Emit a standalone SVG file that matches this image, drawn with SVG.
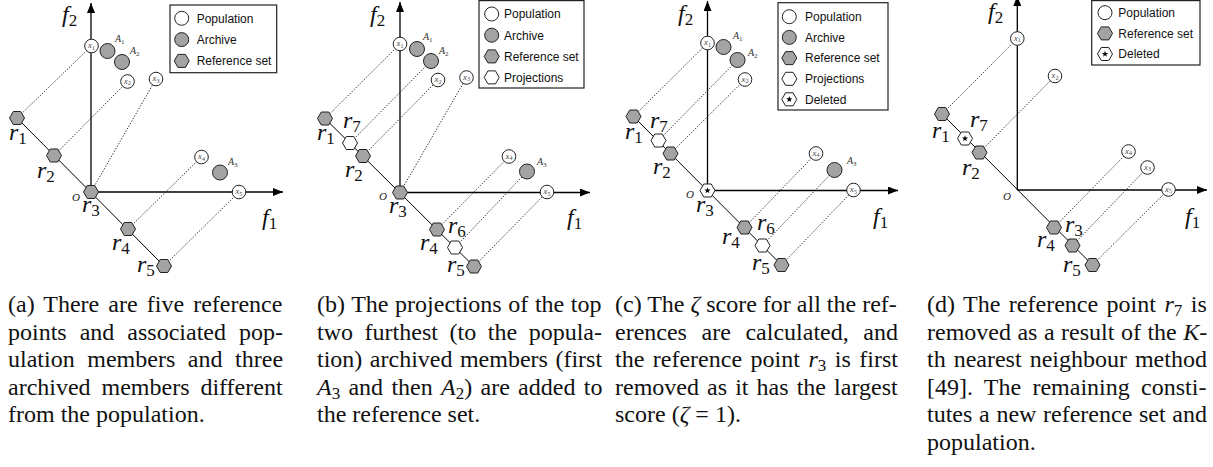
<svg xmlns="http://www.w3.org/2000/svg" xmlns:xlink="http://www.w3.org/1999/xlink" width="1213" height="467" viewBox="0 0 1213 467">
<style>
.pop{fill:#fff;stroke:#222;stroke-width:1}
.arc{fill:#a3a3a3;stroke:#222;stroke-width:1}
.ref{fill:#a3a3a3;stroke:#222;stroke-width:1}
.proj{fill:#fff;stroke:#222;stroke-width:1}
.dot{stroke:#111;stroke-width:0.9;stroke-dasharray:1.3 1.6;fill:none}
.axis{stroke:#000;stroke-width:1.3;fill:none}
.diag{stroke:#000;stroke-width:1;fill:none}
.m{font-family:"Liberation Serif","DejaVu Serif",serif;font-style:italic;fill:#111}
.big{font-size:24px}
.sub{font-size:17px;font-style:normal}
.xl{font-family:"Liberation Serif",serif;font-style:italic;font-size:8.5px;fill:#444;text-anchor:middle}
.xs{font-size:6px;font-style:normal}
.al{font-family:"Liberation Serif",serif;font-style:italic;font-size:10px;fill:#333}
.as{font-size:7px;font-style:normal}
.ol{font-family:"Liberation Serif",serif;font-style:italic;font-size:11px;fill:#222}
.lg{font-family:"Liberation Sans",Arial,sans-serif;font-size:12px;fill:#111}
.box{fill:#fff;stroke:#222;stroke-width:1.2}
.cap{font-family:"Liberation Serif","Times New Roman",serif;font-size:24px;fill:#111}
.it{font-style:italic}
.cs{font-size:17px}
</style>
<defs>
<polygon id="hx" points="7.5,0 3.75,6.5 -3.75,6.5 -7.5,0 -3.75,-6.5 3.75,-6.5"/>
<g id="delm"><polygon points="7.5,0 3.75,6.5 -3.75,6.5 -7.5,0 -3.75,-6.5 3.75,-6.5" fill="#fff" stroke="#222" stroke-width="1"/><polygon points="0,-3.3 0.79,-1.09 3.14,-1.02 1.28,0.42 1.94,2.67 0,1.35 -1.94,2.67 -1.28,0.42 -3.14,-1.02 -0.79,-1.09" fill="#000"/></g>
<marker id="arr" viewBox="0 0 10 8" refX="10" refY="4" markerWidth="10" markerHeight="8" markerUnits="userSpaceOnUse" orient="auto"><path d="M0,0 L10,4 L0,8 z" fill="#000"/></marker>
</defs>

<!-- ================= PANEL A ================= -->
<g id="panel-a">
<g id="a-connectors">
<line class="axis" x1="91" y1="192" x2="91" y2="3" marker-end="url(#arr)"/>
<line class="axis" x1="91" y1="192" x2="283" y2="192" marker-end="url(#arr)"/>
<line class="diag" x1="17" y1="118" x2="164" y2="266"/>
<line class="dot" x1="17" y1="118" x2="91.5" y2="46"/>
<line class="dot" x1="54" y1="155.5" x2="127.5" y2="81.5"/>
<line class="dot" x1="91" y1="192" x2="156" y2="79"/>
<line class="dot" x1="128" y1="229" x2="201.5" y2="157"/>
<line class="dot" x1="164" y1="266" x2="239" y2="192"/>
</g>
<text class="m big" x="62" y="22">f<tspan class="sub" dy="4">2</tspan></text>
<text class="m big" x="262" y="225">f<tspan class="sub" dy="4">1</tspan></text>
<text class="ol" x="72" y="201">O</text>
<g id="a-x1"><circle class="pop" cx="91.5" cy="46" r="6.8"/><text class="xl" x="91.5" y="48">x<tspan class="xs" dy="1.5">1</tspan></text></g>
<g id="a-A1"><circle class="arc" cx="107.5" cy="51" r="7.5"/><text class="al" x="115" y="42">A<tspan class="as" dy="2">1</tspan></text></g>
<g id="a-A2"><circle class="arc" cx="122" cy="62" r="7.5"/><text class="al" x="130" y="54">A<tspan class="as" dy="2">2</tspan></text></g>
<g id="a-x2"><circle class="pop" cx="127.5" cy="81.5" r="6.8"/><text class="xl" x="127.5" y="83.5">x<tspan class="xs" dy="1.5">2</tspan></text></g>
<g id="a-x3"><circle class="pop" cx="156" cy="79" r="6.8"/><text class="xl" x="156" y="81">x<tspan class="xs" dy="1.5">3</tspan></text></g>
<g id="a-x4"><circle class="pop" cx="201.5" cy="157" r="6.8"/><text class="xl" x="201.5" y="159">x<tspan class="xs" dy="1.5">4</tspan></text></g>
<g id="a-A3"><circle class="arc" cx="220" cy="172.5" r="7.5"/><text class="al" x="228" y="165">A<tspan class="as" dy="2">3</tspan></text></g>
<g id="a-x5"><circle class="pop" cx="239" cy="192" r="6.8"/><text class="xl" x="239" y="194">x<tspan class="xs" dy="1.5">5</tspan></text></g>
<g id="a-r1"><use xlink:href="#hx" href="#hx" class="ref" x="17" y="118"/><text class="m big" x="9" y="140">r<tspan class="sub" dy="4">1</tspan></text></g>
<g id="a-r2"><use xlink:href="#hx" href="#hx" class="ref" x="54" y="155.5"/><text class="m big" x="37" y="178">r<tspan class="sub" dy="4">2</tspan></text></g>
<g id="a-r3"><use xlink:href="#hx" href="#hx" class="ref" x="91" y="192"/><text class="m big" x="82" y="212">r<tspan class="sub" dy="4">3</tspan></text></g>
<g id="a-r4"><use xlink:href="#hx" href="#hx" class="ref" x="128" y="229"/><text class="m big" x="112" y="250">r<tspan class="sub" dy="4">4</tspan></text></g>
<g id="a-r5"><use xlink:href="#hx" href="#hx" class="ref" x="164" y="266"/><text class="m big" x="137" y="272">r<tspan class="sub" dy="4">5</tspan></text></g>
<g id="a-legend">
<rect class="box" x="170" y="5" width="106.7" height="67.7"/>
<circle class="pop" cx="181.7" cy="18.3" r="7"/><text class="lg" x="196.7" y="22.6">Population</text>
<circle class="arc" cx="181.7" cy="39.6" r="7"/><text class="lg" x="196.7" y="43.9">Archive</text>
<use xlink:href="#hx" href="#hx" class="ref" x="181.7" y="60.9"/><text class="lg" x="196.7" y="65.2">Reference set</text>
</g>
</g>

<!-- ================= PANEL B ================= -->
<g id="panel-b">
<g id="b-connectors">
<line class="axis" x1="400" y1="192.5" x2="400" y2="2" marker-end="url(#arr)"/>
<line class="axis" x1="400" y1="192.5" x2="590" y2="192.5" marker-end="url(#arr)"/>
<line class="diag" x1="325" y1="118.5" x2="474" y2="266.5"/>
<line class="dot" x1="325" y1="118.5" x2="400" y2="44"/>
<line class="dot" x1="350" y1="143" x2="431" y2="61"/>
<line class="dot" x1="363" y1="156" x2="438" y2="80"/>
<line class="dot" x1="400" y1="192.5" x2="466.5" y2="77.5"/>
<line class="dot" x1="437" y1="229.5" x2="509" y2="156.5"/>
<line class="dot" x1="455" y1="247.5" x2="527" y2="171.5"/>
<line class="dot" x1="474" y1="266.5" x2="547" y2="192"/>
</g>
<text class="m big" x="370" y="22">f<tspan class="sub" dy="4">2</tspan></text>
<text class="m big" x="567" y="225">f<tspan class="sub" dy="4">1</tspan></text>
<text class="ol" x="379" y="200">O</text>
<g id="b-x1"><circle class="pop" cx="400" cy="44" r="6.8"/><text class="xl" x="400" y="46">x<tspan class="xs" dy="1.5">1</tspan></text></g>
<g id="b-A1"><circle class="arc" cx="417" cy="49" r="7.5"/><text class="al" x="423" y="40">A<tspan class="as" dy="2">1</tspan></text></g>
<g id="b-A2"><circle class="arc" cx="431" cy="61" r="7.5"/><text class="al" x="439" y="54">A<tspan class="as" dy="2">2</tspan></text></g>
<g id="b-x2"><circle class="pop" cx="438" cy="80" r="6.8"/><text class="xl" x="438" y="82">x<tspan class="xs" dy="1.5">2</tspan></text></g>
<g id="b-x3"><circle class="pop" cx="466.5" cy="77.5" r="6.8"/><text class="xl" x="466.5" y="79.5">x<tspan class="xs" dy="1.5">3</tspan></text></g>
<g id="b-x4"><circle class="pop" cx="509" cy="156.5" r="6.8"/><text class="xl" x="509" y="158.5">x<tspan class="xs" dy="1.5">4</tspan></text></g>
<g id="b-A3"><circle class="arc" cx="527" cy="171.5" r="7.5"/><text class="al" x="537" y="165">A<tspan class="as" dy="2">3</tspan></text></g>
<g id="b-x5"><circle class="pop" cx="547" cy="192" r="6.8"/><text class="xl" x="547" y="194">x<tspan class="xs" dy="1.5">5</tspan></text></g>
<g id="b-r1"><use xlink:href="#hx" href="#hx" class="ref" x="325" y="118.5"/><text class="m big" x="317" y="140">r<tspan class="sub" dy="4">1</tspan></text></g>
<g id="b-r7"><use xlink:href="#hx" href="#hx" class="proj" x="350" y="143"/><text class="m big" x="343" y="128">r<tspan class="sub" dy="4">7</tspan></text></g>
<g id="b-r2"><use xlink:href="#hx" href="#hx" class="ref" x="363" y="156"/><text class="m big" x="345" y="177">r<tspan class="sub" dy="4">2</tspan></text></g>
<g id="b-r3"><use xlink:href="#hx" href="#hx" class="ref" x="400" y="192.5"/><text class="m big" x="389" y="213">r<tspan class="sub" dy="4">3</tspan></text></g>
<g id="b-r4"><use xlink:href="#hx" href="#hx" class="ref" x="437" y="229.5"/><text class="m big" x="420" y="250">r<tspan class="sub" dy="4">4</tspan></text></g>
<g id="b-r6"><use xlink:href="#hx" href="#hx" class="proj" x="455" y="247.5"/><text class="m big" x="448" y="233">r<tspan class="sub" dy="4">6</tspan></text></g>
<g id="b-r5"><use xlink:href="#hx" href="#hx" class="ref" x="474" y="266.5"/><text class="m big" x="447" y="272">r<tspan class="sub" dy="4">5</tspan></text></g>
<g id="b-legend">
<rect class="box" x="479" y="0.6" width="105" height="87.4"/>
<circle class="pop" cx="491.7" cy="14" r="7"/><text class="lg" x="504" y="18.3">Population</text>
<circle class="arc" cx="491.7" cy="35.2" r="7"/><text class="lg" x="504" y="39.5">Archive</text>
<use xlink:href="#hx" href="#hx" class="ref" x="491.7" y="56.4"/><text class="lg" x="504" y="60.7">Reference set</text>
<use xlink:href="#hx" href="#hx" class="proj" x="491.7" y="77.4"/><text class="lg" x="504" y="81.7">Projections</text>
</g>
</g>

<!-- ================= PANEL C ================= -->
<g id="panel-c">
<g id="c-connectors">
<line class="axis" x1="707.5" y1="190.5" x2="707.5" y2="1" marker-end="url(#arr)"/>
<line class="axis" x1="707.5" y1="190.5" x2="898" y2="190.5" marker-end="url(#arr)"/>
<line class="diag" x1="633.5" y1="116.5" x2="781.5" y2="265"/>
<line class="dot" x1="633.5" y1="116.5" x2="707.5" y2="43"/>
<line class="dot" x1="658.5" y1="140.5" x2="737.5" y2="60"/>
<line class="dot" x1="670.5" y1="153.5" x2="745" y2="79.5"/>
<line class="dot" x1="744.5" y1="227.5" x2="816" y2="153.5"/>
<line class="dot" x1="762.5" y1="245.5" x2="834.5" y2="170"/>
<line class="dot" x1="781.5" y1="265" x2="853.5" y2="190"/>
</g>
<text class="m big" x="678" y="21">f<tspan class="sub" dy="4">2</tspan></text>
<text class="m big" x="873" y="224">f<tspan class="sub" dy="4">1</tspan></text>
<text class="ol" x="686" y="198">O</text>
<g id="c-x1"><circle class="pop" cx="707.5" cy="43" r="6.8"/><text class="xl" x="707.5" y="45">x<tspan class="xs" dy="1.5">1</tspan></text></g>
<g id="c-A1"><circle class="arc" cx="723.5" cy="47" r="7.5"/><text class="al" x="733" y="39">A<tspan class="as" dy="2">1</tspan></text></g>
<g id="c-A2"><circle class="arc" cx="737.5" cy="60" r="7.5"/><text class="al" x="748" y="56">A<tspan class="as" dy="2">2</tspan></text></g>
<g id="c-x2"><circle class="pop" cx="745" cy="79.5" r="6.8"/><text class="xl" x="745" y="81.5">x<tspan class="xs" dy="1.5">2</tspan></text></g>
<g id="c-x4"><circle class="pop" cx="816" cy="153.5" r="6.8"/><text class="xl" x="816" y="155.5">x<tspan class="xs" dy="1.5">4</tspan></text></g>
<g id="c-A3"><circle class="arc" cx="834.5" cy="170" r="7.5"/><text class="al" x="847" y="164">A<tspan class="as" dy="2">3</tspan></text></g>
<g id="c-x5"><circle class="pop" cx="853.5" cy="190" r="6.8"/><text class="xl" x="853.5" y="192">x<tspan class="xs" dy="1.5">5</tspan></text></g>
<g id="c-r1"><use xlink:href="#hx" href="#hx" class="ref" x="633.5" y="116.5"/><text class="m big" x="625" y="139">r<tspan class="sub" dy="4">1</tspan></text></g>
<g id="c-r7"><use xlink:href="#hx" href="#hx" class="proj" x="658.5" y="140.5"/><text class="m big" x="650" y="128">r<tspan class="sub" dy="4">7</tspan></text></g>
<g id="c-r2"><use xlink:href="#hx" href="#hx" class="ref" x="670.5" y="153.5"/><text class="m big" x="653" y="174">r<tspan class="sub" dy="4">2</tspan></text></g>
<g id="c-r3"><use xlink:href="#delm" href="#delm" x="707.5" y="190.5"/><text class="m big" x="696" y="212">r<tspan class="sub" dy="4">3</tspan></text></g>
<g id="c-r4"><use xlink:href="#hx" href="#hx" class="ref" x="744.5" y="227.5"/><text class="m big" x="722" y="244">r<tspan class="sub" dy="4">4</tspan></text></g>
<g id="c-r6"><use xlink:href="#hx" href="#hx" class="proj" x="762.5" y="245.5"/><text class="m big" x="757" y="230">r<tspan class="sub" dy="4">6</tspan></text></g>
<g id="c-r5"><use xlink:href="#hx" href="#hx" class="ref" x="781.5" y="265"/><text class="m big" x="752" y="270">r<tspan class="sub" dy="4">5</tspan></text></g>
<g id="c-legend">
<rect class="box" x="778" y="2.7" width="110" height="107.3"/>
<circle class="pop" cx="789.3" cy="16.7" r="7"/><text class="lg" x="805" y="21">Population</text>
<circle class="arc" cx="789.3" cy="37.4" r="7"/><text class="lg" x="805" y="41.7">Archive</text>
<use xlink:href="#hx" href="#hx" class="ref" x="789.3" y="58.1"/><text class="lg" x="805" y="62.4">Reference set</text>
<use xlink:href="#hx" href="#hx" class="proj" x="789.3" y="78.8"/><text class="lg" x="805" y="83.1">Projections</text>
<use xlink:href="#delm" href="#delm" x="789.3" y="99.3"/><text class="lg" x="805" y="103.6">Deleted</text>
</g>
</g>

<!-- ================= PANEL D ================= -->
<g id="panel-d">
<g id="d-connectors">
<line class="axis" x1="1017.3" y1="190" x2="1017.3" y2="-4" marker-end="url(#arr)"/>
<line class="axis" x1="1017.3" y1="190" x2="1207" y2="190" marker-end="url(#arr)"/>
<line class="diag" x1="942" y1="114" x2="1092.5" y2="265"/>
<line class="dot" x1="942" y1="114" x2="1017.3" y2="38.5"/>
<line class="dot" x1="979.5" y1="152.5" x2="1055" y2="76"/>
<line class="dot" x1="1054" y1="227.5" x2="1128.5" y2="151.5"/>
<line class="dot" x1="1072.5" y1="245.5" x2="1147.5" y2="167.5"/>
<line class="dot" x1="1092.5" y1="265" x2="1168.5" y2="189.5"/>
</g>
<text class="m big" x="988" y="19">f<tspan class="sub" dy="4">2</tspan></text>
<text class="m big" x="1185" y="224">f<tspan class="sub" dy="4">1</tspan></text>
<text class="ol" x="1003" y="200">O</text>
<g id="d-x1"><circle class="pop" cx="1017.3" cy="38.5" r="6.8"/><text class="xl" x="1017.3" y="40.5">x<tspan class="xs" dy="1.5">1</tspan></text></g>
<g id="d-x2"><circle class="pop" cx="1055" cy="76" r="6.8"/><text class="xl" x="1055" y="78">x<tspan class="xs" dy="1.5">2</tspan></text></g>
<g id="d-x4"><circle class="pop" cx="1128.5" cy="151.5" r="6.8"/><text class="xl" x="1128.5" y="153.5">x<tspan class="xs" dy="1.5">4</tspan></text></g>
<g id="d-x3"><circle class="pop" cx="1147.5" cy="167.5" r="6.8"/><text class="xl" x="1147.5" y="169.5">x<tspan class="xs" dy="1.5">3</tspan></text></g>
<g id="d-x5"><circle class="pop" cx="1168.5" cy="189.5" r="6.8"/><text class="xl" x="1168.5" y="191.5">x<tspan class="xs" dy="1.5">5</tspan></text></g>
<g id="d-r1"><use xlink:href="#hx" href="#hx" class="ref" x="942" y="114"/><text class="m big" x="932" y="138">r<tspan class="sub" dy="4">1</tspan></text></g>
<g id="d-r7"><use xlink:href="#delm" href="#delm" x="965" y="138.5"/><text class="m big" x="970" y="127">r<tspan class="sub" dy="4">7</tspan></text></g>
<g id="d-r2"><use xlink:href="#hx" href="#hx" class="ref" x="979.5" y="152.5"/><text class="m big" x="962" y="175">r<tspan class="sub" dy="4">2</tspan></text></g>
<g id="d-r3"><use xlink:href="#hx" href="#hx" class="ref" x="1054" y="227.5"/><text class="m big" x="1065" y="232">r<tspan class="sub" dy="4">3</tspan></text></g>
<g id="d-r4"><use xlink:href="#hx" href="#hx" class="ref" x="1072.5" y="245.5"/><text class="m big" x="1037" y="247">r<tspan class="sub" dy="4">4</tspan></text></g>
<g id="d-r5"><use xlink:href="#hx" href="#hx" class="ref" x="1092.5" y="265"/><text class="m big" x="1063" y="272">r<tspan class="sub" dy="4">5</tspan></text></g>
<g id="d-legend">
<rect class="box" x="1091.7" y="0.6" width="108.3" height="64.4"/>
<circle class="pop" cx="1105" cy="12.7" r="7"/><text class="lg" x="1118.3" y="17">Population</text>
<use xlink:href="#hx" href="#hx" class="ref" x="1105" y="33.4"/><text class="lg" x="1118.3" y="37.7">Reference set</text>
<use xlink:href="#delm" href="#delm" x="1105" y="54"/><text class="lg" x="1118.3" y="58.3">Deleted</text>
</g>
</g>

<!-- ================= CAPTIONS ================= -->
<g id="captions">
<g id="cap-a">
<text class="cap" x="8" y="312" word-spacing="3.1">(a) There are five reference</text>
<text class="cap" x="8" y="339.5" word-spacing="7">points and associated pop-</text>
<text class="cap" x="8" y="367" word-spacing="6.6">ulation members and three</text>
<text class="cap" x="8" y="394.5" word-spacing="4.9">archived members different</text>
<text class="cap" x="8" y="422">from the population.</text>
</g>
<g id="cap-b">
<text class="cap" x="317" y="312" word-spacing="0.6">(b) The projections of the top</text>
<text class="cap" x="317" y="339.5" word-spacing="5.6">two furthest (to the popula-</text>
<text class="cap" x="317" y="367" word-spacing="1.5">tion) archived members (first</text>
<text class="cap" x="317" y="394.5" word-spacing="2.3"><tspan class="it">A</tspan><tspan class="cs" dy="4">3</tspan><tspan dy="-4"> and then </tspan><tspan class="it">A</tspan><tspan class="cs" dy="4">2</tspan><tspan dy="-4">) are added to</tspan></text>
<text class="cap" x="317" y="422">the reference set.</text>
</g>
<g id="cap-c">
<text class="cap" x="615" y="312">(c) The <tspan class="it">ζ</tspan> score for all the ref-</text>
<text class="cap" x="615" y="339.5" word-spacing="8.6">erences are calculated, and</text>
<text class="cap" x="615" y="367" word-spacing="2.5">the reference point <tspan class="it">r</tspan><tspan class="cs" dy="4">3</tspan><tspan dy="-4"> is first</tspan></text>
<text class="cap" x="615" y="394.5" word-spacing="2.1">removed as it has the largest</text>
<text class="cap" x="615" y="422">score (<tspan class="it">ζ</tspan> = 1).</text>
</g>
<g id="cap-d">
<text class="cap" x="927" y="312" word-spacing="2.5">(d) The reference point <tspan class="it">r</tspan><tspan class="cs" dy="4">7</tspan><tspan dy="-4"> is</tspan></text>
<text class="cap" x="927" y="339.5" word-spacing="0.5">removed as a result of the <tspan class="it">K</tspan>-</text>
<text class="cap" x="927" y="367" word-spacing="2">th nearest neighbour method</text>
<text class="cap" x="927" y="394.5" word-spacing="5.3">[49].  The remaining consti-</text>
<text class="cap" x="927" y="422" word-spacing="0.7">tutes a new reference set and</text>
<text class="cap" x="927" y="449.5">population.</text>
</g>
</g>
</svg>
